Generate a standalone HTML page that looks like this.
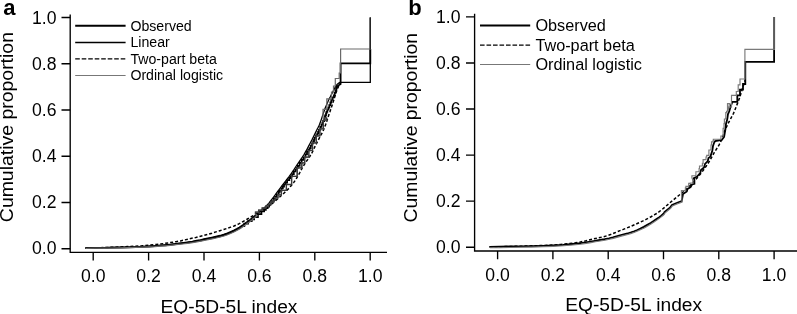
<!DOCTYPE html>
<html><head><meta charset="utf-8"><title>Figure</title>
<style>
html,body{margin:0;padding:0;background:#fff;}
svg{display:block;}
text{font-family:"Liberation Sans",sans-serif;fill:#000;}
.tk{font-size:17.6px;}
.lab{font-size:19.2px;}
.lgA{font-size:14.15px;}
.lgB{font-size:16.25px;}
.pl{font-size:22px;font-weight:bold;fill:#000;}
.ax{stroke:#000;stroke-width:1.35;fill:none;}
</style></head><body>
<svg width="797" height="314" viewBox="0 0 797 314">
<rect width="797" height="314" fill="#fff"/>
<!-- Panel A -->
<text class="pl" x="3.3" y="15">a</text>
<text class="lab" transform="translate(13.2,127.1) rotate(-90) scale(1.0125,1)" text-anchor="middle">Cumulative proportion</text>
<g class="ax">
<path d="M70.2,14.5 V252.3 H387"/>
<path d="M61.5,17.5H70.2 M61.5,63.7H70.2 M61.5,110H70.2 M61.5,156.2H70.2 M61.5,202.5H70.2 M61.5,248.7H70.2"/>
<path d="M93.2,252.3V260.5 M148.6,252.3V260.5 M204,252.3V260.5 M259.4,252.3V260.5 M314.8,252.3V260.5 M370.2,252.3V260.5"/>
</g>
<g class="tk" text-anchor="end">
<text x="56.5" y="24">1.0</text><text x="56.5" y="70">0.8</text><text x="56.5" y="115.7">0.6</text><text x="56.5" y="161.9">0.4</text><text x="56.5" y="208.2">0.2</text><text x="56.5" y="254.4">0.0</text>
</g>
<g class="tk" text-anchor="middle">
<text x="93.2" y="282">0.0</text><text x="148.6" y="282">0.2</text><text x="204" y="282">0.4</text><text x="259.4" y="282">0.6</text><text x="314.8" y="282">0.8</text><text x="370.2" y="282">1.0</text>
</g>
<text class="lab" x="229.0" y="312.9" text-anchor="middle">EQ-5D-5L index</text>
<g fill="none" stroke-linejoin="miter">
<path d="M85.4,248.0 L94.6,247.8 L103.5,247.6 L111.9,247.3 L120.0,247.0 L127.6,246.6 L134.8,246.2 L141.8,245.8 L148.8,245.2 L156.0,244.5 L163.4,243.6 L170.3,242.6 L176.0,241.7 L180.5,240.9 L184.4,240.0 L188.0,239.2 L191.8,238.3 L195.8,237.4 L199.8,236.4 L203.8,235.4 L207.8,234.3 L211.9,233.2 L215.9,231.9 L219.9,230.7 L223.7,229.5 L227.3,228.3 L230.8,227.1 L234.1,226.0 L236.9,224.8 L239.2,223.7 L241.1,222.7 L242.9,221.6 L245.0,220.4 L247.4,219.0 L250.1,217.5 L252.7,215.9 L255.0,214.6 L256.9,213.5 L258.6,212.6 L260.2,211.6 L262.0,210.6 L263.9,209.4 L265.9,208.2 L268.0,206.9 L270.0,205.5 L271.9,204.0 L273.8,202.3 L275.8,200.5 L278.0,198.5 L280.6,196.2 L283.6,193.5 L286.5,190.8 L288.9,188.3 L290.7,186.2 L292.3,184.3 L293.8,182.4 L295.5,180.0 L297.5,176.7 L299.8,172.6 L302.0,168.4 L304.1,164.8 L306.0,161.9 L307.8,159.4 L309.4,157.0 L311.0,154.5 L312.4,152.0 L313.6,149.5 L314.8,146.9 L316.2,144.1 L318.0,140.6 L320.2,136.5 L322.2,132.7 L323.5,130.0 L324.1,128.5 L324.6,127.4 L325.0,126.3 L325.5,125.0 L326.1,123.2 L326.9,120.9 L327.6,118.6 L328.4,116.2 L329.2,113.8 L330.1,111.3 L330.9,108.9 L331.6,106.7 L332.2,104.9 L332.7,103.4 L333.2,101.8 L333.8,100.0 L334.5,97.7 L335.3,95.1 L336.1,92.4 L337.0,90.0 L337.9,87.8 L338.7,85.8 L339.7,83.8 L340.6,82.0" stroke="#000" stroke-width="1.5" stroke-dasharray="3 2"/>
<path d="M85.4,248.0 L94.6,247.9 L103.5,247.7 L111.9,247.5 L120.0,247.3 L127.8,247.1 L135.3,246.8 L142.3,246.5 L148.8,246.2 L154.5,245.8 L159.7,245.4 L164.8,244.9 L170.0,244.3 L175.7,243.6 L181.6,242.9 L187.3,242.1 L192.3,241.3 L196.6,240.5 L200.4,239.8 L204.0,239.0 L207.8,238.2 L211.8,237.3 L215.9,236.4 L219.9,235.5 L223.7,234.4 L227.3,233.1 L230.8,231.6 L234.1,230.1 L236.9,228.6 L239.2,227.3 L241.1,226.0 L242.9,224.8 L245.0,223.3 L247.4,221.5 L250.1,219.5 L252.7,217.4 L255.0,215.6 L257.0,214.0 L258.8,212.6 L260.4,211.2 L262.0,209.8 L263.5,208.5 L264.8,207.3 L266.2,206.0 L267.5,204.6 L268.9,203.1 L270.2,201.4 L271.6,199.6 L273.0,197.8 L274.5,195.8 L276.1,193.6 L277.7,191.4 L279.3,189.3 L280.8,187.3 L282.2,185.4 L283.6,183.6 L285.0,181.8 L286.3,180.1 L287.6,178.5 L288.9,176.9 L290.3,175.0 L291.9,172.6 L293.8,169.9 L295.6,167.0 L297.4,164.3 L299.1,161.8 L300.8,159.4 L302.4,157.0 L304.0,154.5 L305.5,151.9 L307.0,149.2 L308.5,146.4 L310.0,143.5 L311.8,140.1 L313.7,136.2 L315.5,132.6 L316.8,130.0 L317.6,128.4 L318.2,127.3 L318.8,126.1 L319.5,124.5 L320.6,121.6 L321.9,117.6 L323.3,113.4 L324.5,110.0 L325.4,107.6 L326.3,105.5 L327.1,103.6 L328.0,101.5 L329.0,99.3 L330.2,97.0 L331.3,94.7 L332.5,92.5 L333.7,90.1 L335.0,87.6 L336.2,85.5 L337.3,84.2 L338.2,83.5 L339.1,82.9 L339.9,82.5 L340.6,82.4 L370.3,82.4 L370.3,17.5" stroke="#000" stroke-width="1.3"/>
<path d="M85.6,248.1 L94.8,248.0 L103.7,247.8 L112.1,247.7 L120.2,247.5 L128.0,247.3 L135.5,247.1 L142.5,246.8 L149.0,246.5 L154.7,246.2 L159.9,245.7 L165.0,245.3 L170.2,244.8 L175.9,244.2 L181.8,243.4 L187.5,242.7 L192.5,241.9 L196.8,241.2 L200.6,240.5 L204.2,239.7 L208.0,238.9 L212.0,238.1 L216.1,237.2 L220.1,236.3 L223.9,235.2 L227.5,233.9 L231.0,232.5 L234.3,230.9 L237.1,229.5 L239.4,228.2 L241.3,226.9 L242.7,226.0 L244.3,226.0 L244.3,223.7 L248.1,223.7 L248.1,221.1 L251.7,221.1 L251.7,219.3 L254.1,219.3 L254.1,217.1 L257.9,217.1 L257.9,214.2 L261.4,214.2 L261.4,211.3 L264.1,211.3 L264.1,209.8 L265.8,209.8 L265.8,208.1 L267.6,208.1 L267.6,206.7 L269.1,206.7 L269.1,204.6 L270.6,204.6 L270.6,203.2 L272.1,203.2 L272.1,201.1 L273.8,201.1 L273.8,198.6 L275.3,198.6 L275.3,196.8 L276.8,196.8 L276.8,194.3 L278.7,194.3 L278.7,191.9 L279.8,191.9 L279.8,190.6 L281.5,190.6 L281.5,188.3 L282.8,188.3 L282.8,186.5 L284.0,186.5 L284.0,184.4 L285.6,184.4 L285.6,182.6 L287.1,182.6 L287.1,180.1 L289.3,180.1 L289.3,178.0 L290.8,178.0 L290.8,176.4 L292.2,176.4 L292.2,174.1 L293.8,174.1 L293.8,171.4 L295.6,171.4 L295.6,169.6 L296.7,169.6 L296.7,167.8 L297.9,167.8 L297.9,165.8 L299.7,165.8 L299.7,162.9 L301.6,162.9 L301.6,159.8 L303.4,159.8 L303.4,157.3 L305.4,157.3 L305.4,154.4 L307.0,154.4 L307.0,151.6 L308.3,151.6 L308.3,149.6 L309.6,149.6 L309.6,148.2 L310.7,148.2 L310.7,145.7 L312.1,145.7 L312.1,143.4 L313.2,143.4 L313.2,141.4 L314.0,141.4 L314.0,139.7 L314.7,139.7 L314.7,137.7 L316.0,137.7 L316.0,135.5 L317.3,135.5 L317.3,133.7 L318.1,133.7 L318.1,131.9 L319.0,131.9 L319.0,129.8 L320.3,129.8 L320.3,126.9 L321.5,126.9 L321.5,124.6 L322.4,124.6 L322.4,122.8 L323.1,122.8 L323.1,121.0 L324.3,121.0 L324.3,118.8 L324.8,118.8 L324.8,117.2 L325.1,117.2 L325.1,115.5 L326.0,115.5 L326.0,113.3 L326.5,113.3 L326.5,111.8 L327.3,111.8 L327.3,109.6 L328.4,109.6 L328.4,107.7 L329.3,107.7 L329.3,105.1 L330.4,105.1 L330.4,102.5 L331.3,102.5 L331.3,99.9 L332.6,99.9 L332.6,97.4 L333.9,97.4 L333.9,95.4 L334.7,95.4 L334.7,92.9 L335.5,92.9 L335.5,91.0 L336.1,91.0 L336.1,88.7 L336.7,88.7 L336.7,86.8 L337.7,86.8 L337.7,86.0 L337.5,86.0 L340.6,84.0 L340.6,63.3 L370.3,63.3 L370.3,49.0" stroke="#000" stroke-width="1.8"/>
<path d="M85.7,248.3 L94.9,248.2 L103.8,248.1 L112.2,248.0 L120.3,247.8 L128.1,247.6 L135.6,247.4 L142.6,247.2 L149.1,246.9 L154.8,246.6 L160.0,246.2 L165.1,245.8 L170.3,245.3 L176.0,244.7 L181.9,244.0 L187.6,243.3 L192.6,242.6 L196.9,241.9 L200.7,241.2 L204.3,240.5 L208.1,239.7 L212.1,238.8 L216.2,238.0 L220.2,237.0 L224.0,236.0 L227.6,234.7 L231.1,233.2 L234.4,231.7 L237.2,230.3 L239.5,229.0 L241.4,227.7 L243.2,226.5 L245.3,225.0 L247.7,223.2 L250.4,221.2 L253.0,219.1 L255.3,217.3 L257.3,215.7 L255.5,214.0 L255.5,212.2 L258.6,212.2 L258.6,210.1 L262.2,210.1 L262.2,208.0 L265.7,208.0 L265.7,206.1 L268.5,206.1 L268.5,204.3 L271.0,204.3 L271.0,202.4 L273.2,202.4 L273.2,200.3 L275.4,200.3 L275.4,197.9 L278.0,197.9 L278.0,194.9 L281.4,194.9 L281.4,190.3 L286.4,190.3 L286.4,184.5 L291.6,184.5 L291.6,176.3 L297.2,176.3 L297.2,167.8 L301.8,167.8 L301.8,162.9 L304.7,162.9 L304.7,157.1 L308.8,157.1 L308.8,150.5 L312.5,150.5 L312.5,142.8 L316.3,142.8 L316.3,135.9 L319.9,135.9 L319.9,128.9 L323.4,128.9 L323.4,120.1 L326.6,120.1 L326.6,118.0 L327.2,118.0 L323.0,118.0 L323.0,109.4 L326.8,109.4 L326.8,98.9 L331.5,98.9 L331.5,92.0 L333.5,92.0 L333.5,86.0 L335.3,86.0 L335.3,78.5 L339.2,78.5 L339.2,73.0 L340.6,73.0 L340.6,49.0 L370.3,49.0 L370.3,17.5" stroke="#6a6a6a" stroke-width="1.2"/>
<path d="M255.5,214.0 L255.5,212.2 L258.6,212.2 L258.6,210.1 L262.2,210.1 L262.2,208.0 L265.7,208.0 L265.7,206.1 L268.5,206.1 L268.5,204.3 L271.0,204.3 L271.0,202.4 L273.2,202.4 L273.2,200.3 L275.4,200.3 L275.4,197.9 L278.0,197.9 L278.0,194.9 L281.4,194.9 L281.4,190.3 L286.4,190.3 L286.4,184.5 L291.6,184.5 L291.6,176.3 L297.2,176.3 L297.2,167.8 L301.8,167.8 L301.8,162.9 L304.7,162.9 L304.7,157.1 L308.8,157.1 L308.8,150.5 L312.5,150.5 L312.5,142.8 L316.3,142.8 L316.3,135.9 L319.9,135.9 L319.9,128.9 L323.4,128.9 L323.4,120.1 L326.6,120.1 L326.6,118.0 L327.2,118.0" stroke="#3a3a3a" stroke-width="1.3"/>
<path d="M370.3,49V17.5" stroke="#222" stroke-width="1.3"/>
</g>
<g fill="none">
<path d="M75.2,25.8H125.6" stroke="#000" stroke-width="2"/>
<path d="M75.2,42.5H125.6" stroke="#000" stroke-width="1.3"/>
<path d="M75.2,58.9H125.6" stroke="#000" stroke-width="1.4" stroke-dasharray="4.6 1.9"/>
<path d="M75.2,75.5H125.6" stroke="#777" stroke-width="1.15"/>
</g>
<g class="lgA">
<text x="130.4" y="30.6">Observed</text><text x="130.4" y="47.1">Linear</text><text x="130.4" y="63.6">Two-part beta</text><text x="130.4" y="80.2">Ordinal logistic</text>
</g>
<!-- Panel B -->
<text class="pl" x="408.3" y="15">b</text>
<text class="lab" transform="translate(417.3,127.7) rotate(-90) scale(1.01,1)" text-anchor="middle">Cumulative proportion</text>
<g class="ax">
<path d="M474.6,13.8 V251 H797"/>
<path d="M466,16.9H474.6 M466,63H474.6 M466,109H474.6 M466,155.1H474.6 M466,201.1H474.6 M466,247.2H474.6"/>
<path d="M497.6,251V259.2 M552.9,251V259.2 M608.2,251V259.2 M663.5,251V259.2 M718.8,251V259.2 M774.1,251V259.2"/>
</g>
<g class="tk" text-anchor="end">
<text x="460.5" y="22.6">1.0</text><text x="460.5" y="68.7">0.8</text><text x="460.5" y="114.7">0.6</text><text x="460.5" y="160.8">0.4</text><text x="460.5" y="206.8">0.2</text><text x="460.5" y="252.9">0.0</text>
</g>
<g class="tk" text-anchor="middle">
<text x="497.6" y="281">0.0</text><text x="552.9" y="281">0.2</text><text x="608.2" y="281">0.4</text><text x="663.5" y="281">0.6</text><text x="718.8" y="281">0.8</text><text x="774.1" y="281">1.0</text>
</g>
<text class="lab" x="633.7" y="311.3" text-anchor="middle">EQ-5D-5L index</text>
<g fill="none" stroke-linejoin="miter">
<path d="M489.5,246.8 L496.9,246.7 L504.4,246.6 L512.1,246.4 L520.0,246.2 L528.2,246.0 L536.7,245.7 L545.1,245.4 L553.0,245.0 L560.8,244.4 L568.6,243.6 L575.4,242.8 L580.3,242.0 L583.2,241.4 L585.4,240.9 L587.4,240.4 L590.0,239.7 L593.9,238.8 L598.7,237.8 L603.6,236.7 L607.8,235.5 L611.2,234.3 L614.3,233.0 L617.2,231.8 L620.0,230.6 L622.7,229.6 L625.2,228.6 L627.7,227.6 L630.2,226.6 L632.8,225.5 L635.3,224.4 L637.8,223.3 L640.4,222.1 L643.0,220.9 L645.6,219.6 L648.2,218.3 L650.6,217.0 L652.7,215.8 L654.6,214.7 L656.6,213.5 L658.9,211.9 L662.0,209.6 L665.6,206.5 L669.4,203.2 L672.7,200.4 L675.5,198.1 L678.1,196.0 L680.6,194.0 L683.0,192.0 L685.3,190.0 L687.5,188.0 L689.7,185.9 L691.8,183.8 L693.9,181.6 L695.9,179.3 L698.0,177.0 L700.0,174.5 L702.1,171.9 L704.1,169.1 L706.1,166.3 L708.0,163.5 L709.7,160.8 L711.2,158.1 L712.7,155.4 L714.2,152.7 L715.8,150.1 L717.5,147.5 L719.1,144.9 L720.6,142.0 L722.0,138.6 L723.4,134.8 L724.7,131.1 L726.0,128.0 L727.2,125.5 L728.3,123.2 L729.4,121.1 L730.5,119.1 L731.5,117.1 L732.5,115.1 L733.5,113.3 L734.3,111.5 L735.0,109.8 L735.6,108.3 L736.2,106.7 L736.8,105.1 L737.5,103.4 L738.1,101.6 L738.8,99.9 L739.5,98.0 L740.1,96.1 L740.7,94.2 L741.3,92.1 L742.0,90.0 L742.7,87.7 L743.5,85.3 L744.4,82.7 L745.3,80.0" stroke="#000" stroke-width="1.5" stroke-dasharray="3 2"/>
<path d="M489.5,246.8 L499.4,246.7 L509.6,246.5 L520.0,246.3 L531.0,246.1 L542.4,245.8 L553.0,245.4 L563.1,244.8 L572.6,244.0 L580.3,243.2 L585.9,242.4 L590.5,241.6 L595.0,240.8 L599.8,240.0 L604.6,239.2 L609.0,238.3 L612.9,237.4 L616.4,236.4 L620.0,235.4 L623.7,234.4 L627.5,233.5 L631.0,232.4 L634.2,231.3 L637.3,230.0 L640.4,228.6 L643.8,226.9 L647.3,224.9 L650.6,223.0 L653.6,221.1 L656.5,219.1 L658.9,217.4 L660.9,215.9 L662.6,214.5 L664.0,213.2 L664.5,212.0 L670.2,207.4 L672.0,205.0 L676.6,203.0 L681.7,201.0 L683.0,194.0 L686.8,191.5 L687.5,189.0 L690.6,187.0 L692.0,184.5 L694.4,183.8 L694.4,180.0 L693.8,178.2 L697.0,176.5 L700.2,173.1 L701.0,170.0 L704.0,167.4 L705.0,164.0 L707.8,161.0 L708.5,158.0 L710.4,156.6 L712.3,150.8 L713.0,146.0 L714.2,142.5 L715.2,141.0 L721.8,140.0 L724.1,137.0 L725.4,129.3 L726.0,124.0 L727.3,119.1 L728.0,114.0 L729.2,111.5 L731.1,105.1 L732.4,101.9 L737.3,101.9 L737.3,95.4 L740.0,95.4 L740.0,89.6 L743.0,89.6 L743.0,84.0 L745.3,84.0 L745.3,61.8 L774.1,61.8 L774.1,49.4" stroke="#000" stroke-width="1.8"/>
<path d="M489.9,247.8 L499.8,247.7 L510.0,247.5 L520.4,247.3 L531.4,247.1 L542.8,246.8 L553.4,246.4 L563.5,245.8 L573.0,245.0 L580.7,244.2 L586.3,243.4 L590.9,242.6 L595.4,241.8 L600.2,241.0 L605.0,240.2 L609.4,239.3 L613.3,238.4 L616.8,237.4 L620.4,236.4 L624.1,235.4 L627.9,234.5 L631.4,233.4 L634.6,232.3 L637.7,231.0 L640.8,229.6 L644.2,227.9 L647.7,225.9 L651.0,224.0 L654.0,222.1 L656.9,220.1 L659.3,218.4 L661.3,216.9 L663.0,215.5 L664.4,214.2 L664.9,213.0 L670.6,208.4 L672.4,206.0 L677.0,204.0 L682.1,202.0 L681.4,192.5 L681.4,190.6 L685.4,190.6 L685.4,187.9 L685.9,187.9 L685.9,186.4 L688.7,186.4 L688.7,183.4 L690.3,183.4 L690.3,183.0 L693.0,183.0 L692.5,179.2 L691.9,177.8 L691.9,175.7 L695.9,175.7 L695.9,171.7 L699.1,171.7 L699.1,168.5 L699.5,168.5 L699.5,166.0 L702.4,166.0 L702.4,163.3 L703.1,163.3 L703.1,159.6 L706.0,159.6 L706.0,157.0 L706.7,157.0 L706.7,155.4 L708.9,155.4 L708.9,150.0 L711.0,150.0 L711.0,145.0 L711.5,145.0 L711.5,141.8 L713.1,141.8 L713.1,140.5 L713.3,140.5 L713.3,139.2 L720.9,139.2 L720.9,136.0 L723.1,136.0 L723.1,128.4 L724.0,128.4 L724.0,123.6 L724.4,123.6 L724.4,119.0 L725.8,119.0 L725.8,112.6 L726.6,112.6 L726.6,111.2 L727.5,111.2 L727.5,103.6 L729.5,103.6 L728.0,111.5 L728.0,107.0 L731.5,107.0 L731.5,102.0 L731.5,95.4 L736.3,95.4 L736.3,91.5 L738.2,91.5 L738.2,84.8 L740.0,84.8 L740.0,79.0 L744.9,79.0 L744.9,49.4 L774.1,49.4 L774.1,17.0" stroke="#7a7a7a" stroke-width="1.15"/>
<path d="M774.1,49.4V17" stroke="#5a5a5a" stroke-width="2"/>
</g>
<g fill="none">
<path d="M480,25.6H530.2" stroke="#000" stroke-width="2"/>
<path d="M480,45.1H530.2" stroke="#000" stroke-width="1.4" stroke-dasharray="4.6 1.9"/>
<path d="M480,64.5H530.2" stroke="#777" stroke-width="1.15"/>
</g>
<g class="lgB">
<text x="535.4" y="31.4">Observed</text><text x="535.4" y="50.9">Two-part beta</text><text x="535.4" y="69.8">Ordinal logistic</text>
</g>
</svg>
</body></html>
